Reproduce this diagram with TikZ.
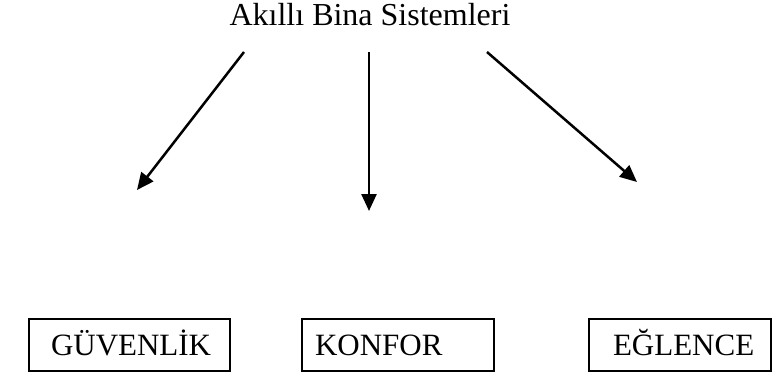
\documentclass[tikz,border=0pt]{standalone}
\usepackage{fontspec}
\setmainfont{Liberation Serif}
\usetikzlibrary{arrows.meta}
\begin{document}
\begin{tikzpicture}[x=1pt,y=-1pt,
  title/.style={inner sep=0pt,font=\fontsize{32}{36}\selectfont},
  catbox/.style={draw,line width=2pt,minimum height=52pt,inner ysep=0pt,
    anchor=north west,align=left,text height=21.7pt,text depth=0pt,
    font=\fontsize{31}{36}\selectfont},
  link/.style={line width=2.5pt,-{Triangle[length=17pt,width=15pt]}}]
\useasboundingbox (0,0) rectangle (776,373);
\node[title] (top) at (370,15) {Akıllı Bina Sistemleri};
\coordinate (s1) at (244,52);
\coordinate (s2) at (369,52);
\coordinate (s3) at (487,52);
\coordinate (e1) at (137,190);
\coordinate (e2) at (369,211);
\coordinate (e3) at (637,182);
\node[catbox,inner xsep=22pt,text width=157pt] (guv) at (28,318) {GÜVENLİK};
\node[catbox,inner xsep=13pt,text width=166pt] (kon) at (301,318) {KONFOR};
\node[catbox,inner xsep=24pt,text width=134pt] (egl) at (588,318) {EĞLENCE};
\draw[link] (s1) -- (e1);
\draw[link] (s2) -- (e2);
\draw[link] (s3) -- (e3);
\end{tikzpicture}
\end{document}
